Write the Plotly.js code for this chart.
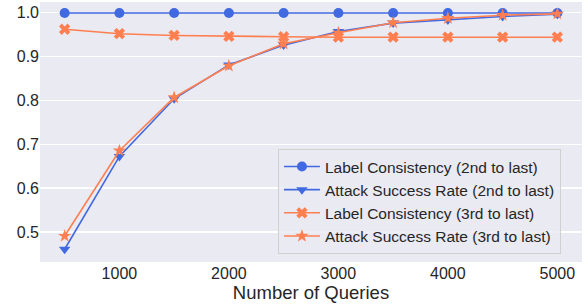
<!DOCTYPE html>
<html><head><meta charset="utf-8">
<script src="https://cdn.plot.ly/plotly-3.0.1.min.js"></script>
<style>html,body{margin:0;padding:0;background:#fff}#c{width:587px;height:304px}</style>
</head><body><div id="c"></div>
<script>
const queries = [500, 1000, 1500, 2000, 2500, 3000, 3500, 4000, 4500, 5000];
const lc2 = [0.998, 0.998, 0.998, 0.998, 0.998, 0.998, 0.998, 0.998, 0.998, 0.998];
const asr2 = [0.461, 0.672, 0.803, 0.880, 0.925, 0.956, 0.975, 0.982, 0.990, 0.995];
const lc3 = [0.961, 0.951, 0.947, 0.945, 0.944, 0.943, 0.943, 0.943, 0.943, 0.943];
const asr3 = [0.491, 0.685, 0.806, 0.878, 0.928, 0.953, 0.976, 0.986, 0.993, 0.996];
const names = ["Label Consistency (2nd to last)", "Attack Success Rate (2nd to last)", "Label Consistency (3rd to last)", "Attack Success Rate (3rd to last)"];
const blue = "#4169E1", orange = "#FF7F50";
function tr(y, name, color, symbol, size) {
  return {x: queries, y: y, name: name, type: "scatter", mode: "lines+markers",
    line: {color: color, width: 1.6}, marker: {color: color, symbol: symbol, size: size}};
}
const data = [
  tr(lc2, names[0], blue, "circle", 10),
  tr(asr2, names[1], blue, "triangle-down", 10),
  tr(lc3, names[2], orange, "x", 10),
  tr(asr3, names[3], orange, "star", 10)
];
const layout = {
  width: 587, height: 304,
  margin: {l: 40, r: 5, t: 2, b: 42},
  paper_bgcolor: "#fff", plot_bgcolor: "#EAEAF2",
  font: {family: "Liberation Sans, Arial, sans-serif", color: "#262626", size: 16},
  xaxis: {range: [275, 5225], tickvals: [1000, 2000, 3000, 4000, 5000], showgrid: false,
    zeroline: false, showline: false, ticks: "", tickfont: {size: 16},
    title: {text: "Number of Queries", font: {size: 18.5}, standoff: 1}},
  yaxis: {range: [0.432, 1.023], tickvals: [0.5, 0.6, 0.7, 0.8, 0.9, 1.0], ticktext: ["0.5","0.6","0.7","0.8","0.9","1.0"],
    gridcolor: "#fff", gridwidth: 1.2, zeroline: false, showline: false, ticks: "", tickfont: {size: 16}},
  legend: {x: 0.439, y: 0.031, xanchor: "left", yanchor: "bottom", bgcolor: "rgba(234,234,242,0.8)",
    bordercolor: "#d0d0d0", borderwidth: 1, font: {size: 15.5}, tracegroupgap: 0, itemwidth: 36},
  showlegend: true
};
Plotly.newPlot("c", data, layout, {displayModeBar: false, staticPlot: true});
</script></body></html>
